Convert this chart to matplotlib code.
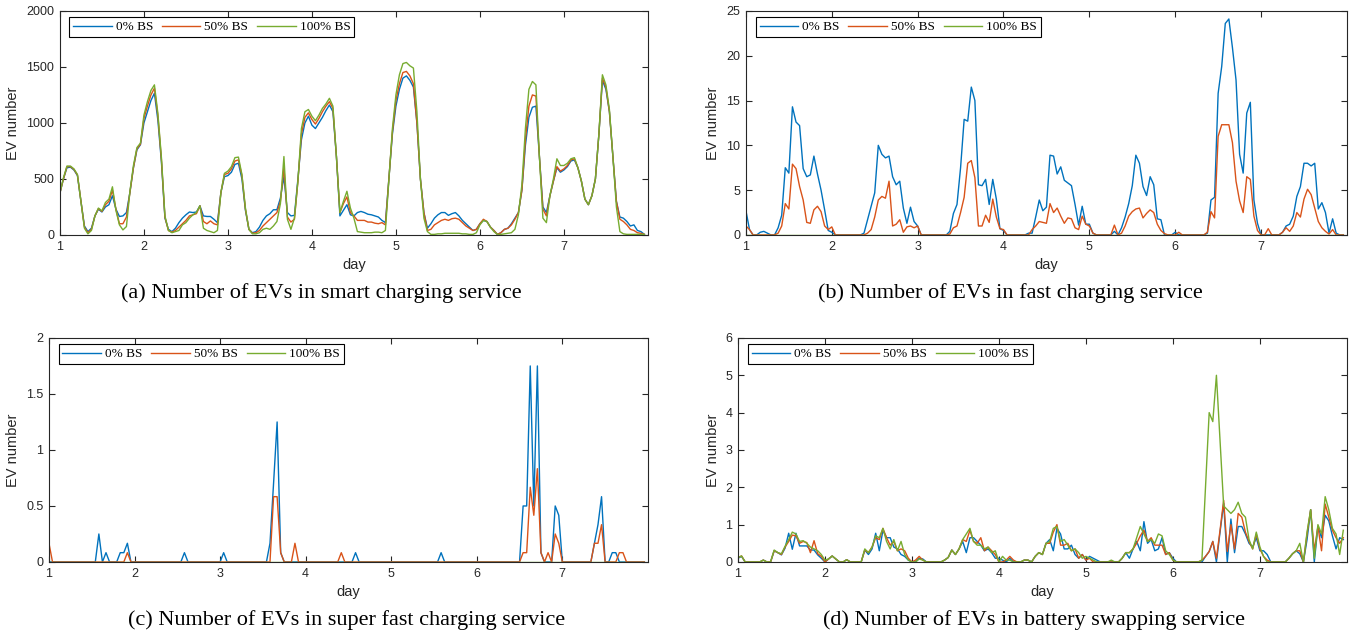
import matplotlib
matplotlib.use('Agg')
import matplotlib.pyplot as plt
import numpy as np

# hourly samples over one week, x axis in days
days = 1 + np.arange(168) / 24.0
series_labels = ["0% BS", "50% BS", "100% BS"]
colors = ["#0072BD", "#D95319", "#77AC30"]

# (a) smart charging
a_bs0 = [375, 500, 600, 605, 580, 530, 300, 80, 30, 60, 170, 230, 205, 250, 270, 350, 230, 165, 170, 200, 380, 600, 760, 805,
         1000, 1100, 1200, 1265, 1020, 650, 150, 50, 30, 60, 110, 150, 180, 205, 200, 205, 260, 170, 165, 165, 140, 110, 380, 520,
         530, 560, 630, 640, 500, 220, 50, 20, 30, 70, 130, 170, 190, 225, 225, 330, 520, 200, 170, 175, 500, 850, 1000, 1060,
         980, 950, 1000, 1050, 1110, 1160, 1100, 700, 170, 220, 270, 180, 170, 200, 210, 200, 185, 180, 170, 160, 130, 110, 500, 900,
         1150, 1300, 1400, 1420, 1380, 1320, 1000, 500, 200, 60, 100, 150, 180, 200, 200, 175, 190, 200, 170, 130, 100, 70, 40, 50,
         100, 130, 120, 70, 40, 5, 20, 50, 60, 100, 150, 200, 400, 800, 1050, 1140, 1150, 700, 250, 200, 350, 480, 600, 560,
         580, 610, 660, 670, 600, 480, 320, 270, 350, 500, 900, 1380, 1300, 1100, 700, 300, 160, 150, 120, 80, 90, 40, 30, 5]
a_bs50 = [375, 500, 610, 610, 585, 535, 300, 70, 20, 50, 170, 235, 210, 270, 300, 400, 230, 100, 100, 160, 380, 600, 770, 810,
          1040, 1150, 1250, 1310, 1060, 670, 160, 40, 25, 40, 70, 100, 130, 170, 180, 190, 260, 120, 100, 125, 100, 90, 380, 540,
          550, 590, 660, 670, 530, 230, 50, 15, 20, 40, 80, 110, 140, 170, 200, 300, 600, 160, 115, 140, 480, 900, 1050, 1090,
          1030, 990, 1040, 1100, 1150, 1190, 1130, 700, 200, 280, 340, 200, 170, 130, 130, 130, 115, 115, 105, 100, 110, 90, 500, 920,
          1200, 1350, 1450, 1460, 1420, 1350, 1000, 500, 200, 40, 50, 90, 110, 130, 140, 130, 145, 150, 140, 110, 80, 60, 40, 50,
          100, 140, 120, 70, 40, 5, 20, 50, 60, 90, 140, 200, 400, 850, 1150, 1250, 1240, 700, 230, 170, 350, 480, 610, 570,
          590, 620, 670, 680, 600, 480, 320, 270, 350, 500, 900, 1400, 1320, 1100, 700, 300, 140, 120, 90, 50, 40, 20, 15, 5]
a_bs100 = [375, 510, 615, 615, 590, 540, 300, 60, 10, 40, 170, 240, 215, 290, 320, 430, 220, 90, 45, 75, 390, 620, 780, 820,
           1070, 1190, 1290, 1340, 1080, 690, 170, 40, 20, 30, 40, 90, 110, 150, 180, 200, 260, 60, 40, 30, 20, 40, 380, 550,
           570, 610, 690, 695, 540, 240, 50, 10, 10, 20, 50, 60, 50, 80, 120, 280, 700, 140, 50, 150, 480, 950, 1100, 1120,
           1060, 1020, 1070, 1130, 1170, 1220, 1150, 700, 200, 300, 390, 240, 150, 30, 25, 20, 20, 20, 25, 25, 20, 40, 500, 950,
           1250, 1430, 1530, 1540, 1510, 1490, 1100, 500, 150, 30, 5, 5, 10, 10, 15, 15, 15, 15, 15, 10, 10, 5, 5, 20,
           90, 130, 120, 70, 30, 5, 5, 10, 15, 20, 50, 180, 450, 950, 1300, 1370, 1340, 700, 150, 110, 350, 500, 680, 620,
           620, 640, 680, 690, 600, 480, 320, 270, 350, 500, 900, 1430, 1340, 1120, 700, 250, 30, 10, 5, 5, 5, 5, 5, 5]

# (b) fast charging
b_bs0 = [2.7, 0.6, 0, 0, 0.3, 0.4, 0.2, 0, 0, 0.8, 2.2, 7.5, 6.9, 14.3, 12.6, 12.2, 7.4, 6.5, 6.7, 8.8, 6.8, 5.0, 2.8, 0.5,
         0.3, 0, 0, 0, 0, 0, 0, 0, 0, 0.2, 1.7, 3.2, 4.7, 10.0, 9.0, 8.6, 8.8, 6.5, 5.6, 6.0, 3.0, 1.3, 3.1, 1.5,
         1.0, 0, 0, 0, 0, 0, 0, 0, 0, 0.4, 2.4, 3.4, 7.5, 12.9, 12.7, 16.5, 15.0, 5.6, 5.5, 6.2, 3.4, 6.2, 4.0, 0.7,
         0.5, 0, 0, 0, 0, 0, 0, 0.2, 0.2, 2.0, 3.9, 2.7, 3.1, 8.9, 8.8, 6.8, 7.6, 6.1, 5.8, 5.5, 3.4, 1.1, 3.2, 1.2,
         1.2, 0.2, 0, 0, 0, 0, 0, 0.4, 0, 0.8, 2.0, 3.5, 5.5, 8.9, 8.0, 5.4, 4.4, 6.5, 5.6, 1.8, 1.7, 0, 0, 0,
         0.3, 0, 0, 0, 0, 0, 0, 0, 0, 0.2, 3.9, 4.2, 15.8, 18.8, 23.6, 24.1, 20.9, 17.3, 9.0, 6.9, 13.6, 14.8, 3.9, 1.3,
         0, 0, 0, 0, 0, 0, 0.3, 1.0, 1.2, 2.1, 4.3, 5.4, 8.0, 8.0, 7.7, 8.0, 2.9, 3.6, 2.5, 0.2, 1.8, 0.2, 0, 0]
b_bs50 = [1.0, 0.6, 0, 0, 0, 0, 0, 0, 0, 0.2, 1.0, 3.5, 2.9, 7.9, 7.4, 5.4, 3.9, 1.4, 1.3, 2.8, 3.2, 2.6, 1.0, 0.6,
          0.9, 0, 0, 0, 0, 0, 0, 0, 0, 0, 0.2, 0.6, 2.0, 3.9, 4.3, 4.1, 6.0, 1.0, 1.2, 1.7, 0.3, 0.9, 1.0, 0.8,
          1.0, 0, 0, 0, 0, 0, 0, 0, 0, 0.1, 0.8, 1.0, 2.5, 4.2, 8.0, 8.3, 6.4, 1.0, 1.0, 2.2, 1.4, 4.0, 2.0, 0.7,
          0.6, 0, 0, 0, 0, 0, 0, 0, 0.6, 1.0, 1.5, 1.4, 1.3, 3.5, 2.5, 3.0, 2.1, 1.3, 1.9, 1.8, 0.8, 0.6, 2.1, 1.2,
          1.0, 0.2, 0, 0, 0, 0, 0, 1.1, 0, 0.2, 1.0, 2.1, 2.6, 2.9, 3.0, 1.9, 2.4, 2.8, 2.5, 1.2, 0.5, 0.15, 0, 0,
          0, 0.3, 0, 0, 0, 0, 0, 0, 0, 0.3, 2.6, 1.9, 11.0, 12.3, 12.3, 12.3, 10.3, 6.0, 3.8, 2.5, 6.5, 6.2, 2.1, 0.5,
          0, 0, 0.7, 0, 0, 0, 0.3, 0.8, 0.4, 1.0, 2.5, 2.0, 4.0, 5.1, 4.5, 3.0, 1.5, 0.8, 0.4, 0.1, 0.6, 0, 0, 0]
b_bs100 = [0] * 168

# (c) super fast charging, mostly zero: hours with non-zero values
c_bs0_hours = [14, 16, 20, 21, 22, 38, 49, 62, 63, 64, 65, 86, 110, 133, 134, 135, 136, 137, 138,
               142, 143, 153, 154, 155, 158, 159]
c_bs0_vals = [0.25, 0.083, 0.083, 0.083, 0.167, 0.083, 0.083, 0.167, 0.7, 1.25, 0.083, 0.083, 0.083,
              0.5, 0.5, 1.75, 0.5, 1.75, 0.083, 0.5, 0.417, 0.167, 0.333, 0.583, 0.083, 0.083]
c_bs50_hours = [0, 22, 63, 64, 65, 69, 82, 133, 134, 135, 136, 137, 138, 140, 142, 143, 153, 154, 155, 160, 161]
c_bs50_vals = [0.167, 0.083, 0.583, 0.583, 0.083, 0.167, 0.083, 0.083, 0.083, 0.667, 0.417, 0.833, 0.083,
               0.083, 0.25, 0.167, 0.167, 0.167, 0.333, 0.083, 0.083]
c_bs100_hours = []
c_bs100_vals = []

# (d) battery swapping
d_bs0 = [0.1, 0.15, 0, 0, 0, 0, 0, 0.05, 0, 0, 0.3, 0.25, 0.19, 0.37, 0.77, 0.34, 0.77, 0.43, 0.43, 0.43, 0.32, 0.32, 0.19, 0.1,
         0, 0.08, 0.16, 0.08, 0, 0, 0.06, 0, 0, 0, 0, 0.32, 0.2, 0.35, 0.77, 0.3, 0.85, 0.65, 0.65, 0.4, 0.35, 0.2, 0.15, 0.05,
         0, 0, 0.1, 0.08, 0, 0, 0, 0, 0, 0.05, 0.12, 0.32, 0.2, 0.35, 0.55, 0.25, 0.65, 0.65, 0.55, 0.45, 0.3, 0.35, 0.25, 0.1,
         0.1, 0.05, 0, 0.1, 0, 0, 0, 0.05, 0.05, 0, 0.15, 0.25, 0.2, 0.5, 0.6, 0.3, 0.9, 0.75, 0.35, 0.35, 0.45, 0.2, 0.1, 0.2,
         0.05, 0.15, 0.1, 0.05, 0, 0, 0, 0, 0, 0, 0.1, 0.25, 0.1, 0.35, 0.55, 0.3, 1.08, 0.5, 0.6, 0.3, 0.35, 0.65, 0.2, 0.25,
         0.1, 0, 0, 0, 0, 0, 0, 0, 0, 0.15, 0.28, 0.55, 0, 0.8, 1.57, 0, 1.15, 0.25, 0.95, 0.95, 0.75, 0.5, 0.4, 0.65,
         0.3, 0.3, 0.2, 0, 0, 0, 0, 0, 0.1, 0.22, 0.3, 0.22, 0, 0.6, 1.4, 0, 0.95, 0.65, 1.25, 1.1, 0.7, 0.35, 0.65, 0.6]
d_bs50 = [0.12, 0.16, 0, 0, 0, 0, 0, 0.05, 0, 0, 0.3, 0.25, 0.2, 0.4, 0.55, 0.72, 0.7, 0.5, 0.55, 0.52, 0.25, 0.57, 0.22, 0.15,
          0, 0.08, 0.16, 0.08, 0, 0, 0.06, 0, 0, 0, 0, 0.32, 0.25, 0.4, 0.65, 0.6, 0.9, 0.65, 0.45, 0.55, 0.3, 0.35, 0.3, 0.1,
          0, 0.05, 0.15, 0.05, 0, 0, 0, 0, 0, 0.05, 0.12, 0.32, 0.2, 0.35, 0.6, 0.55, 0.85, 0.55, 0.5, 0.65, 0.3, 0.4, 0.3, 0.2,
          0, 0, 0.05, 0.15, 0.05, 0, 0, 0.05, 0.05, 0, 0.15, 0.25, 0.2, 0.5, 0.5, 0.8, 1.0, 0.45, 0.45, 0.5, 0.3, 0.35, 0.1, 0.2,
          0.05, 0.1, 0, 0, 0, 0, 0, 0, 0, 0, 0.1, 0.25, 0.25, 0.35, 0.5, 0.7, 0.85, 0.55, 0.65, 0.45, 0.45, 0.45, 0.2, 0.25,
          0.05, 0, 0, 0, 0, 0, 0, 0, 0.05, 0.15, 0.28, 0.55, 0.1, 0.85, 1.65, 0.28, 1.0, 0.35, 1.3, 1.2, 0.8, 0.55, 0.35, 0.75,
          0.35, 0.15, 0.05, 0, 0, 0, 0, 0, 0.1, 0.22, 0.3, 0.3, 0, 0.75, 1.4, 0.3, 0.95, 0.3, 1.55, 1.2, 0.85, 0.65, 0.5, 0.65]
d_bs100 = [0.12, 0.16, 0, 0, 0, 0, 0, 0.05, 0, 0, 0.32, 0.25, 0.22, 0.42, 0.6, 0.8, 0.75, 0.55, 0.57, 0.5, 0.4, 0.35, 0.3, 0.2,
           0.05, 0.08, 0.16, 0.08, 0, 0, 0.06, 0, 0, 0, 0, 0.35, 0.25, 0.4, 0.7, 0.65, 0.9, 0.55, 0.35, 0.6, 0.3, 0.55, 0.2, 0.05,
           0, 0, 0.08, 0.05, 0, 0, 0, 0, 0, 0.05, 0.12, 0.32, 0.2, 0.35, 0.6, 0.75, 0.9, 0.55, 0.45, 0.45, 0.35, 0.4, 0.25, 0.3,
           0, 0.15, 0.05, 0.05, 0, 0, 0, 0.05, 0.05, 0, 0.15, 0.25, 0.2, 0.5, 0.55, 0.9, 0.95, 0.55, 0.6, 0.45, 0.3, 0.35, 0.25, 0.1,
           0.15, 0.1, 0.05, 0, 0, 0, 0, 0.05, 0, 0, 0.1, 0.25, 0.25, 0.35, 0.65, 0.95, 0.75, 0.55, 0.6, 0.5, 0.75, 0.7, 0.3, 0.2,
           0.05, 0, 0, 0, 0, 0, 0, 0, 0.05, 2.0, 4.0, 3.76, 5.0, 3.25, 1.5, 1.4, 1.3, 1.4, 1.6, 1.3, 1.2, 0.6, 0.35, 0.8,
           0.4, 0.15, 0, 0, 0, 0, 0, 0, 0.1, 0.22, 0.3, 0.5, 0, 0.8, 1.4, 0.1, 1.0, 0.75, 1.75, 1.4, 0.9, 0.75, 0.2, 0.85]


def sparse(hours, vals):
    y = np.zeros(168)
    y[hours] = vals
    return y


c_bs0 = sparse(c_bs0_hours, c_bs0_vals)
c_bs50 = sparse(c_bs50_hours, c_bs50_vals)
c_bs100 = sparse(c_bs100_hours, c_bs100_vals)

sans = 'Liberation Sans'
serif = 'Liberation Serif'
axcol = '#262626'


def panel(rect, data, ylim, yticks, caption, cap_x, label_x):
    ax = fig.add_axes(rect)
    for y, c, lab in zip(data, colors, series_labels):
        ax.plot(days, y, color=c, lw=1.0, label=lab)
    ax.set_xlim(1, 8)
    ax.set_ylim(*ylim)
    ax.set_xticks([1, 2, 3, 4, 5, 6, 7])
    ax.set_yticks(yticks)
    ax.set_yticklabels([('%g' % t) for t in yticks])
    ax.tick_params(direction='in', top=True, right=True, length=4, width=0.8,
                   labelsize=9, colors=axcol, pad=4)
    for lab in ax.get_xticklabels() + ax.get_yticklabels():
        lab.set_fontfamily(sans)
    for s in ax.spines.values():
        s.set_color(axcol)
        s.set_linewidth(0.8)
    ax.set_xlabel('day', fontsize=10.5, family=sans, color=axcol, labelpad=4)
    ax.set_ylabel('EV number', fontsize=10.5, family=sans, color=axcol)
    ax.yaxis.set_label_coords(label_x, rect[1] + rect[3] / 2, transform=fig.transFigure)
    leg = ax.legend(loc='upper left', ncol=3, prop={'family': serif, 'size': 9.5},
                    frameon=True, fancybox=False, edgecolor='black', framealpha=1,
                    handlelength=2.9, handletextpad=0.3, columnspacing=0.7,
                    borderpad=0.3, borderaxespad=0, bbox_to_anchor=(0.016, 0.973))
    leg.get_frame().set_linewidth(0.8)
    fig.text(cap_x, rect[1] - 0.092, caption, ha='center', va='center',
             fontsize=16, family=serif)
    return ax


fig = plt.figure(figsize=(13.56, 6.35), dpi=100)

panel([0.0442, 0.630, 0.4336, 0.3528], [a_bs0, a_bs50, a_bs100], (0, 2000),
      [0, 500, 1000, 1500, 2000], '(a) Number of EVs in smart charging service', 0.2371, 0.0150)
panel([0.5501, 0.630, 0.4432, 0.3528], [b_bs0, b_bs50, b_bs100], (0, 25),
      [0, 5, 10, 15, 20, 25], '(b) Number of EVs in fast charging service', 0.7448, 0.5310)
panel([0.0361, 0.1150, 0.4417, 0.3528], [c_bs0, c_bs50, c_bs100], (0, 2),
      [0, 0.5, 1, 1.5, 2], '(c) Number of EVs in super fast charging service', 0.2559, 0.0150)
panel([0.5442, 0.1150, 0.4491, 0.3528], [d_bs0, d_bs50, d_bs100], (0, 6),
      [0, 1, 2, 3, 4, 5, 6], '(d) Number of EVs in battery swapping service', 0.7629, 0.5310)

fig.savefig('out.png', dpi=100)
